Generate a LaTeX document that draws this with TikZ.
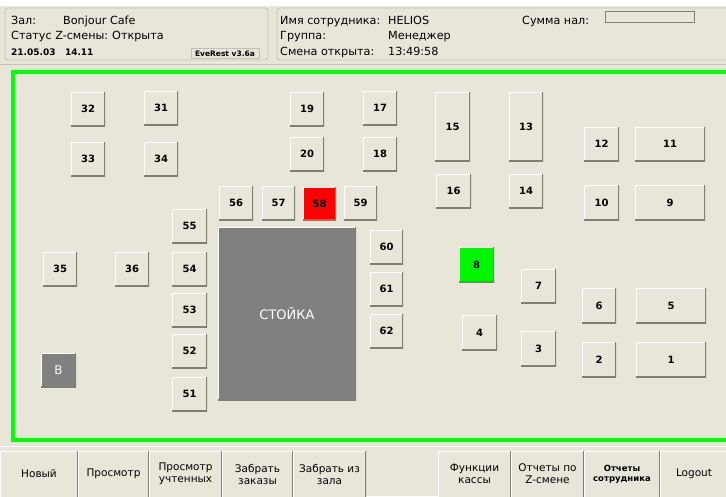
\documentclass[tikz,border=0pt]{standalone}
\usepackage{fontspec}
\setmainfont{DejaVu Sans}
\definecolor{bg}{RGB}{231,230,217}
\definecolor{sh}{RGB}{128,128,112}
\definecolor{pline}{RGB}{196,194,180}
\definecolor{frm}{RGB}{0,255,0}
\definecolor{gry}{RGB}{128,128,128}
\definecolor{redb}{RGB}{255,0,0}
\definecolor{grnb}{RGB}{0,245,0}
\tikzset{
  bevel/.style={path picture={
    \draw[white, line width=2.4pt] (path picture bounding box.south west) -- (path picture bounding box.north west) -- (path picture bounding box.north east);
    \draw[sh, line width=3pt] (path picture bounding box.north east) -- (path picture bounding box.south east) -- (path picture bounding box.south west);}},
  tab/.style={bevel, fill=bg, inner sep=0pt, font=\bfseries\fontsize{10}{12}\selectfont, text=black},
  hdr/.style={anchor=base west, inner sep=0pt, font=\fontsize{11.2}{13}\selectfont},
  hdrb/.style={anchor=base west, inner sep=0pt, font=\bfseries\fontsize{9}{10}\selectfont},
  panel/.style={draw=pline, fill=bg, rounded corners=3pt, line width=0.8pt},
  bbtn/.style={fill=bg, inner sep=0pt, align=center, font=\fontsize{10.5}{12}\selectfont,
    path picture={
    \draw[white, line width=2.4pt] (path picture bounding box.south west) -- (path picture bounding box.north west) -- (path picture bounding box.north east);
    \draw[sh, line width=3pt] (path picture bounding box.north east) -- (path picture bounding box.south east);}},
}
\newcommand\tb[7][]{\node[tab,minimum width={#5-#3},minimum height={#6-#4},#1] (#2) at ({(#3+#5)/2},{(#4+#6)/2}) {#7};}
\newcommand\bb[5][]{\node[bbtn,minimum width={#4-#3},minimum height=46,#1] (#2) at ({(#3+#4)/2},474) {#5};}
\begin{document}
\begin{tikzpicture}[x=1pt,y=-1pt]
\useasboundingbox (0,0) rectangle (726,496);
\fill[bg] (0,0) rectangle (726,496);
\fill[white] (0,0) rectangle (726,6);
% header panels
\draw[panel] (5,8) rectangle (268,60);
\draw[panel] (277,8) rectangle (735,60);
\draw[pline, line width=0.8pt] (0,64) -- (726,64);
\node[hdr] (zal) at (11,24) {Зал:};
\node[hdr] (cafe) at (63,24) {Bonjour Cafe};
\node[hdr] (stat) at (11,39.5) {Статус Z-смены:};
\node[hdr] (open) at (112,39.5) {Открыта};
\node[hdrb] (date) at (11,55) {21.05.03\ \ \ 14.11};
\node[draw=pline, fill=bg, inner sep=0pt, minimum width=68, minimum height=10, font=\bfseries\fontsize{7.5}{9}\selectfont] (ver) at (225,53.5) {EveRest v3.6a};
\node[hdr] (emp) at (280,24) {Имя сотрудника:};
\node[hdr] (helios) at (388,24) {HELIOS};
\node[hdr] (grp) at (280,39.5) {Группа:};
\node[hdr] (mgr) at (388,39.5) {Менеджер};
\node[hdr] (shift) at (280,55) {Смена открыта:};
\node[hdr] (time) at (388,55) {13:49:58};
\node[hdr] (sum) at (522,24) {Сумма нал:};
\node[draw=sh, fill=bg, inner sep=0pt, minimum width=89, minimum height=11] (sumbox) at (650,16.5) {};
% green frame
\draw[frm, line width=4.5pt] (735,72) -- (13,72) -- (13,440) -- (735,440);
% tables
\tb{t32}{71}{92}{105}{126}{32}
\tb{t31}{144}{91}{178}{125}{31}
\tb{t33}{71}{142}{105}{176}{33}
\tb{t34}{144}{142}{178}{176}{34}
\tb{t19}{290}{92}{324}{126}{19}
\tb{t17}{363}{91}{397}{125}{17}
\tb{t20}{290}{137}{324}{171}{20}
\tb{t18}{363}{137}{397}{171}{18}
\tb{t56}{219}{186}{253}{220}{56}
\tb{t57}{262}{186}{295}{220}{57}
\tb[fill=redb]{t58}{303}{187}{336}{220}{58}
\tb{t59}{344}{186}{377}{220}{59}
\tb{t55}{172}{209}{207}{243}{55}
\tb{t54}{172}{252}{207}{286}{54}
\tb{t53}{172}{293}{207}{327}{53}
\tb{t52}{172}{334}{207}{368}{52}
\tb{t51}{172}{377}{207}{411}{51}
\tb{t35}{43}{252}{77}{286}{35}
\tb{t36}{115}{252}{149}{286}{36}
\tb[fill=gry,text=white,font=\fontsize{12}{14}\selectfont]{tB}{41}{353}{76}{387}{B}
\tb[fill=gry,text=white,font=\fontsize{13}{15}\selectfont]{bar}{218}{227}{356}{400}{СТОЙКА}
\tb{t60}{370}{230}{403}{264}{60}
\tb{t61}{370}{272}{403}{306}{61}
\tb{t62}{370}{314}{403}{348}{62}
\tb{t15}{435}{92}{470}{161}{15}
\tb{t13}{509}{92}{543}{161}{13}
\tb{t16}{436}{174}{471}{208}{16}
\tb{t14}{509}{174}{543}{208}{14}
\tb{t12}{584}{127}{619}{161}{12}
\tb{t11}{635}{127}{705}{161}{11}
\tb{t10}{584}{185}{619}{220}{10}
\tb{t9}{635}{185}{705}{220}{9}
\tb[fill=grnb]{t8}{459}{247}{494}{282}{8}
\tb{t7}{521}{269}{556}{303}{7}
\tb{t6}{582}{288}{616}{323}{6}
\tb{t5}{636}{288}{706}{323}{5}
\tb{t4}{462}{315}{497}{350}{4}
\tb{t3}{521}{331}{556}{366}{3}
\tb{t2}{582}{342}{616}{377}{2}
\tb{t1}{636}{342}{706}{377}{1}
% bottom buttons
\draw[white, line width=0.8pt] (0,446.5) -- (726,446.5);
\bb{bnew}{0}{78}{Новый}
\bb{bview}{78}{149}{Просмотр}
\bb{bview2}{149}{222}{Просмотр\\учтенных}
\bb{btake}{222}{293}{Забрать\\заказы}
\bb{btake2}{293}{366}{Забрать из\\зала}
\bb{bfun}{438}{511}{Функции\\кассы}
\bb{brep}{511}{584}{Отчеты по\\Z-смене}
\bb[font=\bfseries\fontsize{8.5}{10}\selectfont]{bemp}{584}{660}{Отчеты\\сотрудника}
\bb{bout}{660}{728}{Logout}
\end{tikzpicture}
\end{document}
